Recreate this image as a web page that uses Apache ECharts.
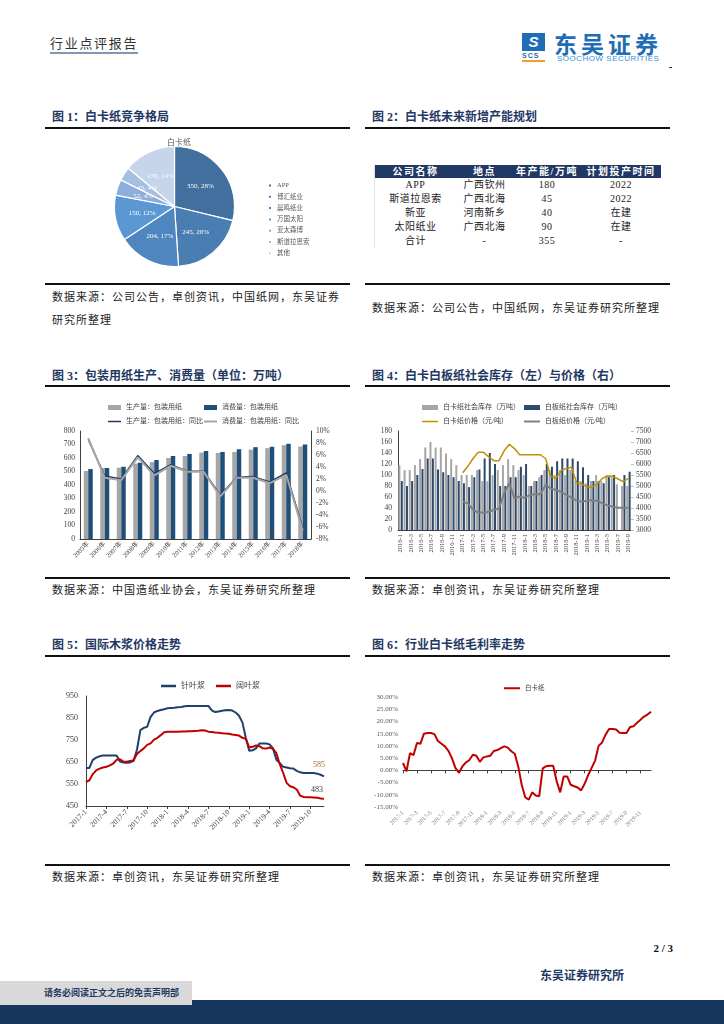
<!DOCTYPE html>
<html><head><meta charset="utf-8">
<script src="https://cdn.jsdelivr.net/npm/echarts@6/dist/echarts.min.js"></script>
<style>
body{margin:0;width:724px;height:1024px;position:relative;background:#fff;overflow:hidden;font-family:"Liberation Serif","Noto Sans CJK SC",serif;}
.abs{position:absolute;white-space:nowrap;}
.title{position:absolute;font-weight:bold;font-size:12px;line-height:12px;color:#1F3864;white-space:nowrap;}
.rule{position:absolute;height:2px;background:#111;}
.src{position:absolute;font-size:11px;line-height:12px;color:#222;letter-spacing:1px;white-space:nowrap;}
.chart{position:absolute;}
table{border-collapse:collapse;font-size:10px;color:#222;}
td,th{padding:0;text-align:center;white-space:nowrap;}
th{background:#1F3864;color:#fff;font-weight:bold;height:13px;line-height:13px;letter-spacing:1.5px;}
td{height:14px;line-height:14px;letter-spacing:0.5px;}
</style></head>
<body>
<!-- header -->
<div class="abs" style="left:50px;top:37px;font-size:13px;line-height:14px;color:#333;letter-spacing:1.7px;">行业点评报告</div>
<div class="abs" style="left:50px;top:52px;width:88px;height:2px;background:#8497B0;"></div>
<div class="abs" style="left:522px;top:33px;width:23px;height:18px;background:#1F6DB5;color:#fff;font:bold italic 15px/18px 'Liberation Sans';text-align:center;">S</div>
<div class="abs" style="left:522px;top:52px;font:bold 7px/7px 'Liberation Sans';color:#1F6DB5;letter-spacing:1px;">SCS</div>
<div class="abs" style="left:522px;top:60px;width:23px;height:2px;background:#F0A030;"></div>
<div class="abs" style="left:554px;top:30px;font-family:'Noto Sans CJK SC';font-weight:bold;font-size:23px;line-height:26px;color:#1F6DB5;letter-spacing:4px;">东吴证券</div>
<div class="abs" style="left:557px;top:54px;font-family:'Liberation Sans';font-size:8px;line-height:9px;color:#3A8FD8;letter-spacing:0.5px;">SOOCHOW SECURITIES</div>
<div class="abs" style="left:669px;top:67px;width:3px;height:1px;background:#333;"></div>

<!-- titles -->
<div class="title" style="left:52px;top:111px;">图 1：白卡纸竞争格局</div>
<div class="title" style="left:372px;top:111px;">图 2：白卡纸未来新增产能规划</div>
<div class="title" style="left:52px;top:370px;">图 3：包装用纸生产、消费量（单位：万吨）</div>
<div class="title" style="left:372px;top:370px;">图 4：白卡白板纸社会库存（左）与价格（右）</div>
<div class="title" style="left:52px;top:639px;">图 5：国际木浆价格走势</div>
<div class="title" style="left:372px;top:639px;">图 6：行业白卡纸毛利率走势</div>

<div class="rule" style="left:45px;top:127px;width:305px;"></div>
<div class="rule" style="left:365px;top:127px;width:305px;"></div>
<div class="rule" style="left:45px;top:283px;width:305px;"></div>
<div class="rule" style="left:365px;top:283px;width:305px;"></div>
<div class="rule" style="left:45px;top:385px;width:305px;"></div>
<div class="rule" style="left:365px;top:385px;width:305px;"></div>
<div class="rule" style="left:45px;top:577px;width:305px;"></div>
<div class="rule" style="left:365px;top:577px;width:305px;"></div>
<div class="rule" style="left:45px;top:655px;width:305px;"></div>
<div class="rule" style="left:365px;top:655px;width:305px;"></div>
<div class="rule" style="left:45px;top:864px;width:305px;"></div>
<div class="rule" style="left:365px;top:864px;width:305px;"></div>

<div class="src" style="left:52px;top:291px;">数据来源：公司公告，卓创资讯，中国纸网，东吴证券</div>
<div class="src" style="left:52px;top:314px;">研究所整理</div>
<div class="src" style="left:372px;top:302px;">数据来源：公司公告，中国纸网，东吴证券研究所整理</div>
<div class="src" style="left:52px;top:584px;">数据来源：中国造纸业协会，东吴证券研究所整理</div>
<div class="src" style="left:372px;top:584px;">数据来源：卓创资讯，东吴证券研究所整理</div>
<div class="src" style="left:52px;top:871px;">数据来源：卓创资讯，东吴证券研究所整理</div>
<div class="src" style="left:372px;top:871px;">数据来源：卓创资讯，东吴证券研究所整理</div>

<!-- table -->
<div class="abs" style="left:374px;top:165px;border-left:1px solid #E3E3E3;">
<table id="tbl" style="width:286px;"></table>
</div>

<!-- charts -->
<div id="c1" class="chart" style="left:45px;top:130px;width:305px;height:150px;"></div>
<div id="c3" class="chart" style="left:45px;top:392px;width:310px;height:185px;"></div>
<div id="c4" class="chart" style="left:365px;top:392px;width:310px;height:185px;"></div>
<div id="c5" class="chart" style="left:45px;top:660px;width:310px;height:204px;"></div>
<div id="c6" class="chart" style="left:365px;top:660px;width:310px;height:204px;"></div>

<!-- footer -->
<div class="abs" style="left:640px;top:942px;width:33px;text-align:right;font-weight:bold;font-size:11px;line-height:12px;color:#111;">2 / 3</div>
<div class="abs" style="left:540px;top:970px;font-weight:bold;font-size:12px;line-height:13px;color:#1F3864;">东吴证券研究所</div>
<div class="abs" style="left:0;top:1000px;width:724px;height:24px;background:#17375E;"></div>
<div class="abs" style="left:0;top:981px;width:192px;height:24px;background:#D9D9D9;"></div>
<div class="abs" style="left:44px;top:988px;font-weight:bold;font-size:9px;line-height:10px;color:#1F3864;">请务必阅读正文之后的免责声明部</div>

<script>
// ---------- Fig 1: pie ----------
const pieNames = ['APP','博汇纸业','晨鸣纸业','万国太阳','亚太森博','斯道拉恩索','其他'];
const pieValues = [350,245,204,150,52,45,170];
const piePct = [28,20,17,12,4,4,14];

// ---------- Fig 2: table ----------
const tableHead = ['公司名称','地点','年产能/万吨','计划投产时间'];
const tableCompany = ['APP','斯道拉恩索','新亚','太阳纸业','合计'];
const tableLocation = ['广西钦州','广西北海','河南新乡','广西北海','-'];
const tableCapacity = ['180','45','40','90','355'];
const tableTime = ['2022','2022','在建','在建','-'];

// ---------- Fig 3 ----------
const years3 = ['2005年','2006年','2007年','2008年','2009年','2010年','2011年','2012年','2013年','2014年','2015年','2016年','2017年','2018年'];
const prod3 = [504,526,528,559,570,600,615,640,637,645,662,673,695,685];
const cons3 = [518,526,535,565,585,615,630,652,645,665,680,683,705,700];
const prodYoY3 = [8.6,2.5,2.0,5.9,2.9,4.4,3.3,3.3,-0.7,2.3,2.4,1.5,3.0,-6.2];
const consYoY3 = [8.8,2.2,1.8,5.6,2.6,4.2,3.2,3.2,-0.9,2.2,2.2,1.3,2.7,-6.6];

// ---------- Fig 4 ----------
const months4 = ['2016-1','2016-2','2016-3','2016-4','2016-5','2016-6','2016-7','2016-8','2016-9','2016-10','2016-11','2016-12',
 '2017-1','2017-2','2017-3','2017-4','2017-5','2017-6','2017-7','2017-8','2017-9','2017-10','2017-11','2017-12',
 '2018-1','2018-2','2018-3','2018-4','2018-5','2018-6','2018-7','2018-8','2018-9','2018-10','2018-11','2018-12',
 '2019-1','2019-2','2019-3','2019-4','2019-5','2019-6','2019-7','2019-8','2019-9'];
const cardStock = [118,109,109,118,129,150,160,150,150,139,129,118,100,100,100,109,89,89,100,109,118,129,118,109,100,80,89,96,109,109,100,109,100,109,89,89,85,89,100,89,100,96,83,80,80];
const boardStock = [89,80,89,100,111,130,130,110,105,100,96,89,85,78,96,110,130,140,120,80,80,96,96,115,120,80,89,100,120,115,125,130,130,130,125,114,100,89,89,85,96,100,null,100,106];
const cardPrice = [null,null,null,null,null,null,null,null,null,null,null,null,5600,5900,6250,6530,6530,6330,6150,6150,6600,6900,6700,6420,6420,6420,6420,6420,6250,5450,5350,5700,5800,5850,5150,5100,4960,4950,5100,5350,5450,5440,5320,5200,5350];
const boardPrice = [null,null,null,null,null,null,null,null,null,null,null,null,4290,4210,3910,3790,3790,3830,3910,3980,4670,5120,4440,4515,4470,4590,4620,4620,5050,4890,4820,4740,4590,4470,4330,4290,4330,4360,4320,4210,4120,4060,4010,4010,4010];

// ---------- Fig 5 (half-monthly) ----------
const softwood = [623,623,660,670,676,680,680,680,680,680,652,648,646,648,655,707,795,805,810,855,875,882,886,890,894,896,897,899,900,903,905,905,905,905,905,905,905,885,877,880,883,885,886,884,875,860,830,760,701,703,712,734,734,734,730,712,660,645,628,625,622,620,610,603,600,600,600,600,597,592,585];
const hardwood = [559,567,595,612,620,625,628,635,643,660,662,652,651,655,658,687,700,712,728,735,752,760,772,785,787,787,788,788,789,789,790,790,791,792,794,793,788,786,784,783,781,779,778,775,773,770,760,755,716,719,725,722,712,711,716,710,690,640,600,555,540,535,525,497,491,490,490,489,488,484,483];

// ---------- Fig 6 (half-monthly) ----------
const margin6 = [3.0,-0.4,7.0,6.2,11.2,10.9,15.0,15.3,15.3,14.8,12.0,10.9,9.8,8.0,5.0,1.0,-1.0,1.6,3.2,4.2,6.4,6.0,3.5,5.3,5.7,6.0,7.9,8.3,9.1,9.8,9.3,7.8,6.8,1.5,-6.0,-11.0,-12.0,-9.0,-10.3,-10.6,0.8,1.7,1.9,1.9,-4.5,-9.0,-2.5,-2.5,-5.9,-6.5,-7.0,-8.2,-5.5,-2.0,1.0,4.0,10.0,11.4,14.6,16.9,16.9,16.7,15.4,15.3,15.3,17.7,18.0,19.5,20.7,22.0,22.8,24.0];

// half-month category keys (label = key without trailing letter)
function halfMonths(n){const out=[];for(let i=0;i<n;i++){const m=Math.floor(i/2);out.push((2017+Math.floor(m/12))+'-'+(m%12+1)+(i%2?'b':'a'));}return out;}
const cats5 = halfMonths(softwood.length);
const cats6 = halfMonths(margin6.length);

const F = '"Liberation Serif","Noto Sans CJK SC",serif';
const axisCol = '#404040';

// table
(function(){
  const t=document.getElementById('tbl');
  let h='<tr>'+tableHead.map((s,i)=>'<th style="width:'+[81,57,68,80][i]+'px">'+s+'</th>').join('')+'</tr>';
  for(let i=0;i<tableCompany.length;i++){
    h+='<tr><td>'+tableCompany[i]+'</td><td>'+tableLocation[i]+'</td><td>'+tableCapacity[i]+'</td><td>'+tableTime[i]+'</td></tr>';
  }
  t.innerHTML=h;
})();

// Fig 1
const pieColors=['#41709E','#4A7DB2','#4F86BF','#5B98D3','#8DAEDB','#A5BFE3','#C7D5EB'];
echarts.init(document.getElementById('c1')).setOption({
  animation:false,
  title:{text:'白卡纸',left:117,top:4,textStyle:{fontSize:8,fontWeight:'normal',color:'#595959',fontFamily:F}},
  legend:{orient:'vertical',left:217,top:47,itemWidth:4,itemHeight:4,itemGap:4.3,icon:'rect',
    textStyle:{fontSize:6.5,lineHeight:7,color:'#595959',fontFamily:F},data:pieNames},
  series:[{type:'pie',center:[129.5,76.5],radius:[0,60],startAngle:90,
    itemStyle:{borderColor:'#fff',borderWidth:1.2},
    label:{position:'inside',color:'#fff',fontSize:7,fontFamily:F,
      formatter:p=>pieValues[p.dataIndex]+', '+piePct[p.dataIndex]+'%'},
    labelLine:{show:false},
    data:pieNames.map((n,i)=>({name:n,value:pieValues[i],itemStyle:{color:pieColors[i]}}))}]
});

// Fig 3
const lt = {fontSize:7,color:'#404040',fontFamily:F};
echarts.init(document.getElementById('c3')).setOption({
  animation:false,
  legend:[
    {data:['生产量：包装用纸'],left:58,top:7,itemWidth:13,itemHeight:5,icon:'rect',textStyle:lt},
    {data:['消费量：包装用纸'],left:154,top:7,itemWidth:13,itemHeight:5,icon:'rect',textStyle:lt},
    {data:['生产量：包装用纸：同比'],left:58,top:21,itemWidth:13,itemHeight:1.5,icon:'rect',textStyle:lt},
    {data:['消费量：包装用纸：同比'],left:154,top:21,itemWidth:13,itemHeight:2,icon:'rect',textStyle:lt}
  ],
  grid:{left:35,right:44,top:39,bottom:38},
  xAxis:{type:'category',data:years3,axisLine:{lineStyle:{color:axisCol}},axisTick:{show:false},
    axisLabel:{rotate:45,interval:0,fontSize:6.5,color:axisCol,fontFamily:F,margin:4}},
  yAxis:[
    {type:'value',min:0,max:800,interval:100,splitLine:{show:false},axisLine:{show:true,lineStyle:{color:axisCol}},
     axisTick:{show:false},axisLabel:{fontSize:7.5,color:axisCol,fontFamily:F,margin:5}},
    {type:'value',min:-8,max:10,interval:2,splitLine:{show:false},axisLine:{show:true,lineStyle:{color:axisCol}},
     axisTick:{show:false},axisLabel:{fontSize:7.5,color:axisCol,fontFamily:F,margin:5,formatter:'{value}%'}}
  ],
  series:[
    {name:'生产量：包装用纸',type:'bar',data:prod3,barWidth:4.5,barGap:'0%',itemStyle:{color:'#A6A6A6'}},
    {name:'消费量：包装用纸',type:'bar',data:cons3,barWidth:4.5,itemStyle:{color:'#1F4E79'}},
    {name:'生产量：包装用纸：同比',type:'line',yAxisIndex:1,data:prodYoY3,symbol:'none',lineStyle:{color:'#1F3864',width:1.5},itemStyle:{color:'#1F3864'}},
    {name:'消费量：包装用纸：同比',type:'line',yAxisIndex:1,data:consYoY3,symbol:'none',lineStyle:{color:'#A6A6A6',width:2},itemStyle:{color:'#A6A6A6'}}
  ]
});

// Fig 4
echarts.init(document.getElementById('c4')).setOption({
  animation:false,
  legend:[
    {data:['白卡纸社会库存（万吨）'],left:52,top:7,itemWidth:16,itemHeight:5,icon:'rect',textStyle:lt},
    {data:['白板纸社会库存（万吨）'],left:154,top:7,itemWidth:16,itemHeight:5,icon:'rect',textStyle:lt},
    {data:['白卡纸价格（元/吨）'],left:52,top:21,itemWidth:16,itemHeight:1.5,icon:'rect',textStyle:lt},
    {data:['白板纸价格（元/吨）'],left:154,top:21,itemWidth:16,itemHeight:2,icon:'rect',textStyle:lt}
  ],
  grid:{left:33,right:44,top:39,bottom:47},
  xAxis:{type:'category',data:months4,axisLine:{lineStyle:{color:axisCol}},axisTick:{show:false},
    axisLabel:{rotate:90,interval:1,fontSize:6.5,color:axisCol,fontFamily:F,margin:4}},
  yAxis:[
    {type:'value',min:0,max:180,interval:20,splitLine:{show:false},axisLine:{show:true,lineStyle:{color:axisCol}},
     axisTick:{show:false},axisLabel:{fontSize:7.5,color:axisCol,fontFamily:F,margin:6}},
    {type:'value',min:3000,max:7500,interval:500,splitLine:{show:false},axisLine:{show:false},
     axisTick:{show:true,length:3,lineStyle:{color:'#BFBFBF'}},axisLabel:{fontSize:7.5,color:axisCol,fontFamily:F,margin:5,formatter:v=>String(v)}}
  ],
  series:[
    {name:'白卡纸社会库存（万吨）',type:'bar',data:cardStock,barWidth:2,barGap:'20%',itemStyle:{color:'#A6A6A6'}},
    {name:'白板纸社会库存（万吨）',type:'bar',data:boardStock,barWidth:2,itemStyle:{color:'#2E4A6B'}},
    {name:'白卡纸价格（元/吨）',type:'line',yAxisIndex:1,data:cardPrice,symbol:'none',lineStyle:{color:'#BF9000',width:1.5},itemStyle:{color:'#BF9000'}},
    {name:'白板纸价格（元/吨）',type:'line',yAxisIndex:1,data:boardPrice,symbol:'none',lineStyle:{color:'#7F7F7F',width:2},itemStyle:{color:'#7F7F7F'}}
  ]
});

// Fig 5
const lt5 = {fontSize:8,color:'#404040',fontFamily:F};
echarts.init(document.getElementById('c5')).setOption({
  animation:false,
  legend:[
    {data:['针叶浆'],left:111,top:17,itemWidth:15,itemHeight:2.5,icon:'rect',textStyle:lt5},
    {data:['阔叶浆'],left:166,top:17,itemWidth:15,itemHeight:2.5,icon:'rect',textStyle:lt5}
  ],
  grid:{left:41,right:31,top:36,bottom:58},
  xAxis:{type:'category',data:cats5,boundaryGap:false,axisLine:{lineStyle:{color:axisCol}},
    axisTick:{show:true,interval:5,length:3,lineStyle:{color:axisCol}},
    axisLabel:{rotate:45,interval:5,fontSize:7.5,color:axisCol,fontFamily:F,margin:5,formatter:v=>v.slice(0,-1)}},
  yAxis:{type:'value',min:450,max:950,interval:100,splitLine:{show:false},axisLine:{show:true,lineStyle:{color:axisCol}},
    axisTick:{show:false},axisLabel:{fontSize:8,color:axisCol,fontFamily:F,margin:8}},
  series:[
    {name:'针叶浆',type:'line',data:softwood,symbol:'none',lineStyle:{color:'#1F3F6E',width:2},itemStyle:{color:'#1F3F6E'},
     endLabel:{show:true,formatter:p=>String(p.value),offset:[-19,-11],color:'#A0703A',fontSize:8,fontFamily:F}},
    {name:'阔叶浆',type:'line',data:hardwood,symbol:'none',lineStyle:{color:'#C00000',width:2},itemStyle:{color:'#C00000'},
     endLabel:{show:true,formatter:p=>String(p.value),offset:[-21,-9],color:'#3A3A3A',fontSize:8,fontFamily:F}}
  ]
});

// Fig 6
echarts.init(document.getElementById('c6')).setOption({
  animation:false,
  legend:{data:['白卡纸'],left:134,top:20,itemWidth:16,itemHeight:2,icon:'rect',textStyle:{fontSize:6.5,color:'#404040',fontFamily:F}},
  grid:{left:38,right:24,top:37,bottom:57},
  xAxis:{type:'category',data:cats6,boundaryGap:false,axisLine:{lineStyle:{color:axisCol}},
    axisTick:{show:true,interval:3,length:3,lineStyle:{color:axisCol}},
    axisLabel:{rotate:45,interval:3,fontSize:6,color:'#808080',fontFamily:F,margin:5,formatter:v=>v.slice(0,-1)}},
  yAxis:{type:'value',min:-15,max:30,interval:5,splitLine:{show:false},axisLine:{show:false},axisTick:{show:false},
    axisLabel:{fontSize:7,color:'#595959',fontFamily:F,margin:5,formatter:v=>v.toFixed(2)+'%'}},
  series:[{name:'白卡纸',type:'line',data:margin6,symbol:'none',lineStyle:{color:'#C00000',width:2},itemStyle:{color:'#C00000'}}]
});
</script>
</body></html>
